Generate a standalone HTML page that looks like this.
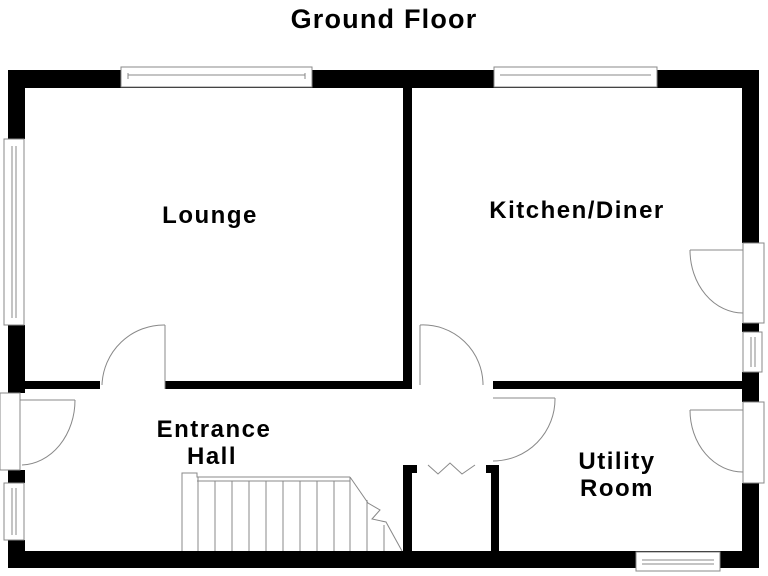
<!DOCTYPE html>
<html><head><style>body{margin:0;background:#fff}svg{display:block}text{font-family:"Liberation Sans",Arial,sans-serif;font-weight:bold;fill:#000;text-anchor:middle}</style></head>
<body>
<svg width="768" height="576" viewBox="0 0 768 576" xmlns="http://www.w3.org/2000/svg">
<text x="384" y="28" font-size="27" letter-spacing="1.2">Ground Floor</text>
<g fill="#000">
<rect x="8" y="70" width="751" height="18"/>
<rect x="8" y="551" width="751" height="17"/>
<rect x="8" y="70" width="17" height="69"/>
<rect x="8" y="325" width="17" height="68"/>
<rect x="8" y="470" width="17" height="13"/>
<rect x="8" y="540" width="17" height="28"/>
<rect x="742" y="70" width="17" height="173"/>
<rect x="742" y="323" width="17" height="9"/>
<rect x="742" y="372" width="17" height="30"/>
<rect x="742" y="483" width="17" height="85"/>
<rect x="403" y="88" width="9" height="301"/>
<rect x="25" y="381" width="75" height="8"/>
<rect x="165" y="381" width="247" height="8"/>
<rect x="493" y="381" width="250" height="8"/>
<rect x="403" y="465" width="9" height="86"/>
<rect x="403" y="465" width="14" height="8"/>
<rect x="491" y="465" width="8" height="86"/>
<rect x="486" y="465" width="13" height="8"/>
</g>
<g fill="#fff" stroke="#888" stroke-width="1">
<rect x="121" y="67" width="191" height="20"/>
<rect x="494" y="67" width="163" height="20"/>
<rect x="4" y="139" width="20" height="186"/>
<rect x="4" y="483" width="20" height="57"/>
<rect x="743" y="332" width="19" height="40"/>
<rect x="636" y="552" width="84" height="19"/>
<rect x="743" y="243" width="21" height="80"/>
<rect x="743" y="402" width="21" height="81"/>
<rect x="0" y="393" width="20" height="77"/>
</g>
<g stroke="#888" stroke-width="1" fill="none">
<line x1="128" y1="75" x2="305" y2="75"/><line x1="128" y1="73" x2="128" y2="79"/><line x1="305" y1="73" x2="305" y2="79"/>
<line x1="500" y1="75" x2="651" y2="75"/>
<line x1="12" y1="146" x2="12" y2="318"/><line x1="16" y1="146" x2="16" y2="318"/>
<line x1="12" y1="488" x2="12" y2="535"/><line x1="16" y1="488" x2="16" y2="535"/>
<line x1="751" y1="337" x2="751" y2="367"/><line x1="755" y1="337" x2="755" y2="367"/>
<line x1="642" y1="560" x2="714" y2="560"/><line x1="642" y1="564" x2="714" y2="564"/>
<line x1="165" y1="389" x2="165" y2="325"/><path d="M165 325 A62 62 0 0 0 102 385"/>
<line x1="420" y1="385" x2="420" y2="325"/><path d="M420 325 A60 60 0 0 1 483 385"/>
<line x1="493" y1="398" x2="555" y2="398"/><path d="M555 398 A62 62 0 0 1 493 461"/>
<line x1="743" y1="250" x2="690" y2="250"/><path d="M690 250 A53 63 0 0 0 743 313"/>
<line x1="743" y1="410" x2="690" y2="410"/><path d="M690 410 A53 62 0 0 0 743 472"/>
<line x1="20" y1="400" x2="75" y2="400"/><path d="M75 400 A55 65 0 0 1 22 465"/>
<polyline points="428,465 438,474 450,463 462,474 475,465"/>
<polyline points="182,551 182,473 197,473 197,477 350,477"/>
<line x1="197" y1="481" x2="350" y2="481"/>
<line x1="198" y1="477" x2="198" y2="551"/>
<line x1="215" y1="481" x2="215" y2="551"/><line x1="232" y1="481" x2="232" y2="551"/>
<line x1="249" y1="481" x2="249" y2="551"/><line x1="266" y1="481" x2="266" y2="551"/>
<line x1="283" y1="481" x2="283" y2="551"/><line x1="300" y1="481" x2="300" y2="551"/>
<line x1="317" y1="481" x2="317" y2="551"/><line x1="334" y1="481" x2="334" y2="551"/>
<line x1="350" y1="477" x2="350" y2="551"/><line x1="367" y1="500" x2="367" y2="551"/>
<line x1="384" y1="525" x2="384" y2="551"/>
<polyline points="350,477 368,503 380,510 372,519 386,522 402,551"/>
</g>
<g font-size="24" letter-spacing="1.5">
<text x="210" y="223">Lounge</text>
<text x="577" y="218">Kitchen/Diner</text>
<text x="214" y="437">Entrance</text>
<text x="212" y="464">Hall</text>
<text x="617" y="469">Utility</text>
<text x="617" y="496">Room</text>
</g>
</svg>
</body></html>
